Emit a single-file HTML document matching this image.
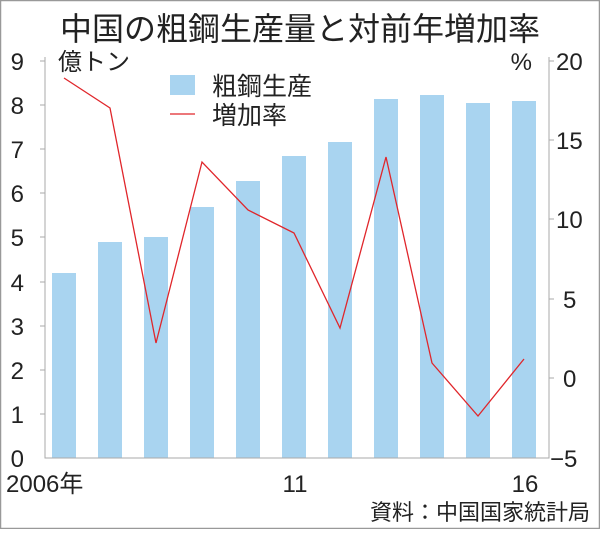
<!DOCTYPE html>
<html><head><meta charset="utf-8"><style>
body{margin:0;background:#fff}
svg text{font-family:"Liberation Sans","Noto Sans CJK JP",sans-serif;fill:#222}
</style></head><body>
<svg width="600" height="529" viewBox="0 0 600 529" xmlns="http://www.w3.org/2000/svg">
<rect x="0.5" y="0.5" width="599" height="528" fill="#fff" stroke="#999" stroke-width="1.5"/>
<text x="300" y="40" font-size="32" text-anchor="middle">中国の粗鋼生産量と対前年増加率</text>
<g transform="translate(0,-3)">
<g fill="#a9d4f0">
<rect x="52" y="276" width="24" height="185"/>
<rect x="98" y="245" width="24" height="216"/>
<rect x="144" y="240" width="24" height="221"/>
<rect x="190" y="210" width="24" height="251"/>
<rect x="236" y="184" width="24" height="277"/>
<rect x="282" y="159" width="24" height="302"/>
<rect x="328" y="145" width="24" height="316"/>
<rect x="374" y="102" width="24" height="359"/>
<rect x="420" y="98" width="24" height="363"/>
<rect x="466" y="106" width="24" height="355"/>
<rect x="512" y="104" width="24" height="357"/>
</g>
<g stroke="#aaa" stroke-width="1" fill="none">
<path d="M45,60V461H549V60"/>
<path d="M40,64H45M40,108H45M40,152H45M40,196H45M40,240H45M40,285H45M40,329H45M40,373H45M40,417H45"/>
<path d="M549,64H554M549,143H554M549,222H554M549,302H554M549,381H554"/>
</g>
<polyline fill="none" stroke="#e0262b" stroke-width="1.3" points="64,81 110,111 156,346 202,165 248,213 294,236 340,331 386,160 432,366 478,419 524,362"/>
<g font-size="24">
<text x="24" y="73" text-anchor="end">9</text>
<text x="24" y="117" text-anchor="end">8</text>
<text x="24" y="161" text-anchor="end">7</text>
<text x="24" y="205" text-anchor="end">6</text>
<text x="24" y="249" text-anchor="end">5</text>
<text x="24" y="294" text-anchor="end">4</text>
<text x="24" y="338" text-anchor="end">3</text>
<text x="24" y="382" text-anchor="end">2</text>
<text x="24" y="426" text-anchor="end">1</text>
<text x="24" y="470" text-anchor="end">0</text>
<text x="556" y="73">20</text>
<text x="556" y="152">15</text>
<text x="556" y="231">10</text>
<text x="563" y="311">5</text>
<text x="563" y="390">0</text>
<text x="550" y="470">−5</text>
<text x="58" y="73">億トン</text>
<text x="532" y="73" text-anchor="end">%</text>
<text x="6" y="495">2006年</text>
<text x="295" y="495" text-anchor="middle">11</text>
<text x="525" y="495" text-anchor="middle">16</text>
</g>
<rect x="170" y="78" width="25" height="20" fill="#a9d4f0"/>
<line x1="170" y1="117" x2="195" y2="117" stroke="#e0262b" stroke-width="1.3"/>
<text x="212" y="98" font-size="25">粗鋼生産</text>
<text x="212" y="127" font-size="25">増加率</text>
</g>
<text x="590" y="520" font-size="22" text-anchor="end">資料：中国国家統計局</text>
</svg>
</body></html>
